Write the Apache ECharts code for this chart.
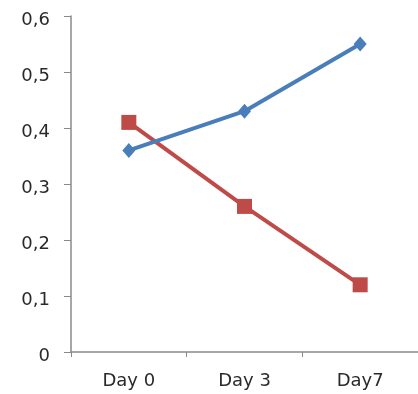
<!DOCTYPE html>
<html>
<head>
<meta charset="utf-8">
<script src="https://cdn.jsdelivr.net/npm/echarts@6/dist/echarts.min.js"></script>
<style>
  html, body { margin: 0; padding: 0; background: #fff; }
  #chart { width: 418px; height: 394px; }
</style>
</head>
<body>
<div id="chart"></div>
<script>
// Categories and series values
const categories = ['Day 0', 'Day 3', 'Day7'];
const blueValues = [0.36, 0.43, 0.55];
const redValues = [0.41, 0.26, 0.12];
const yTicks = [0, 0.1, 0.2, 0.3, 0.4, 0.5, 0.6];

const chart = echarts.init(document.getElementById('chart'));
const axisColor = '#8a8a8a';
const labelFont = { fontFamily: 'DejaVu Sans', fontSize: 18, color: '#2a2a2a' };

chart.setOption({
  animation: false,
  // the plot area runs slightly past the right edge of the canvas
  grid: { left: 71, top: 16, width: 351, height: 336 },
  xAxis: {
    type: 'category',
    data: categories,
    boundaryGap: true,
    axisLine: { lineStyle: { color: axisColor, width: 1.5 } },
    axisTick: { show: true, length: 5, inside: false, lineStyle: { color: axisColor } },
    axisLabel: Object.assign({ margin: 20 }, labelFont),
    splitLine: { show: false }
  },
  yAxis: {
    type: 'value',
    min: 0,
    max: 0.6,
    interval: 0.1,
    axisLine: { show: true, lineStyle: { color: axisColor, width: 1.5 } },
    axisTick: { show: true, length: 7, lineStyle: { color: axisColor } },
    axisLabel: Object.assign({
      margin: 21,
      formatter: v => {
        const t = yTicks.find(x => Math.abs(x - v) < 1e-9);
        const s = t === 0 ? '0' : String(+(t ?? v).toFixed(1)).replace('.', ',');
        return '{v|' + s + '}';
      },
      rich: { v: Object.assign({ padding: [8, 0, 0, 0] }, labelFont) }
    }, labelFont),
    splitLine: { show: false }
  },
  series: [
    {
      type: 'line',
      data: blueValues,
      symbol: 'diamond',
      symbolSize: [13, 15],
      lineStyle: { color: '#4a7ebb', width: 4 },
      itemStyle: { color: '#4a7ebb' },
      z: 3
    },
    {
      type: 'line',
      data: redValues,
      symbol: 'rect',
      symbolSize: 15,
      lineStyle: { color: '#be4b48', width: 4 },
      itemStyle: { color: '#be4b48' },
      z: 2
    }
  ]
});
</script>
</body>
</html>
